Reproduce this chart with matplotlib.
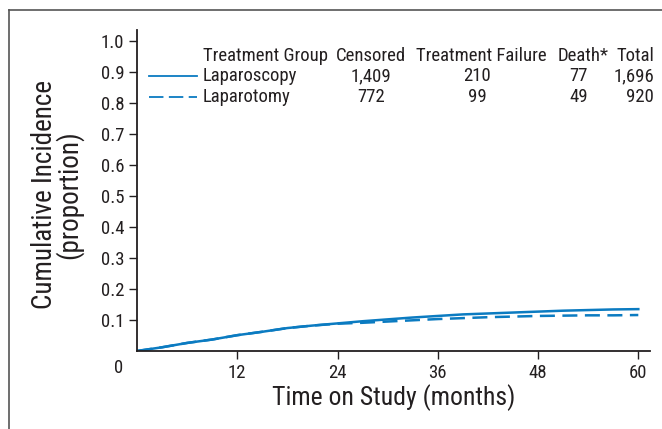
import matplotlib
matplotlib.use('Agg')
import matplotlib.pyplot as plt
from matplotlib.lines import Line2D

plt.rcParams['font.family'] = ['Roboto Condensed', 'DejaVu Sans']

# cumulative incidence
months = [0, 3, 6, 9, 12, 15, 18, 21, 24, 27, 30, 33, 36, 39, 42, 45, 48,
          51, 54, 57, 60]
lap_scopy = [0, 0.012, 0.026, 0.037, 0.051, 0.062, 0.074, 0.082, 0.089,
             0.096, 0.102, 0.108, 0.113, 0.118, 0.121, 0.124, 0.127, 0.130,
             0.132, 0.134, 0.135]
lap_tomy = [0, 0.012, 0.026, 0.037, 0.051, 0.062, 0.074, 0.082, 0.088,
            0.091, 0.095, 0.099, 0.103, 0.106, 0.109, 0.111, 0.113, 0.114,
            0.115, 0.115, 0.116]

groups = ['Laparoscopy', 'Laparotomy']
censored = ['1,409', '772']
failure = ['210', '99']
death = ['77', '49']
total = ['1,696', '920']

blue = '#0b7bc1'
ink = '#231f20'

fig = plt.figure(figsize=(6.62, 4.29), dpi=100)
ax = fig.add_axes([137 / 662, 78 / 429, 513 / 662, 321 / 429])

ax.plot(months, lap_scopy, color=blue, lw=1.8)
ax.plot(months, lap_tomy, color=blue, lw=1.8, ls=(0, (6, 3)))

ax.set_xlim(0, 61.4)
ax.set_ylim(0, 1.035)
ax.set_xticks([12, 24, 36, 48, 60])
ax.set_yticks([0.1, 0.2, 0.3, 0.4, 0.5, 0.6, 0.7, 0.8, 0.9, 1.0])
ax.set_yticklabels(['%.1f' % v for v in ax.get_yticks()])
ax.tick_params(direction='out', length=6, width=1, colors=ink, labelsize=13.5)
ax.tick_params(axis='y', pad=3)
ax.tick_params(axis='x', pad=3)
for s in ['top', 'right']:
    ax.spines[s].set_visible(False)
for s in ['left', 'bottom']:
    ax.spines[s].set_linewidth(1.3)
    ax.spines[s].set_color(ink)

# lone "0" under the origin
ax.text(-2.2, -0.055, '0', transform=ax.transData, ha='center', va='center',
        fontsize=13.5, color=ink)

ax.set_xlabel('Time on Study (months)', fontsize=18.5, color=ink, va='center')
ax.xaxis.set_label_coords(0.501, -0.145)
ax.set_ylabel('Cumulative Incidence\n(proportion)', fontsize=19.5, color=ink,
              linespacing=0.85, va='center')
ax.yaxis.set_label_coords(-0.156, 0.486)

# legend table placed in pixel-like figure coords
W, H = 662, 429
def fx(px): return px / W
def fy(py): return 1 - py / H

fs = 13.5
fig.text(fx(203), fy(56), 'Treatment Group', fontsize=fs, color=ink, va='center')
fig.text(fx(371), fy(56), 'Censored', fontsize=fs, color=ink, va='center', ha='center')
fig.text(fx(481), fy(56), 'Treatment Failure', fontsize=fs, color=ink, va='center', ha='center')
fig.text(fx(583), fy(56), 'Death*', fontsize=fs, color=ink, va='center', ha='center')
fig.text(fx(654), fy(56), 'Total', fontsize=fs, color=ink, va='center', ha='right')

styles = ['-', (0, (8, 3))]
rows_y = [76, 97]
for i, g in enumerate(groups):
    y = rows_y[i]
    fig.add_artist(Line2D([fx(149), fx(197)], [fy(y), fy(y)], color=blue,
                          lw=1.3, ls=styles[i]))
    fig.text(fx(203), fy(y), g, fontsize=fs, color=ink, va='center')
    fig.text(fx(371), fy(y), censored[i], fontsize=fs, color=ink, va='center', ha='center')
    fig.text(fx(477), fy(y), failure[i], fontsize=fs, color=ink, va='center', ha='center')
    fig.text(fx(588), fy(y), death[i], fontsize=fs, color=ink, va='center', ha='right')
    fig.text(fx(654), fy(y), total[i], fontsize=fs, color=ink, va='center', ha='right')

# cropped outer frame (top and left edges only)
fig.add_artist(Line2D([fx(8.5), 1], [fy(10), fy(10)], color='#555555', lw=1.2))
fig.add_artist(Line2D([fx(8.5), fx(8.5)], [fy(10), 0], color='#555555', lw=1.2))

fig.savefig('out.png', dpi=100)
